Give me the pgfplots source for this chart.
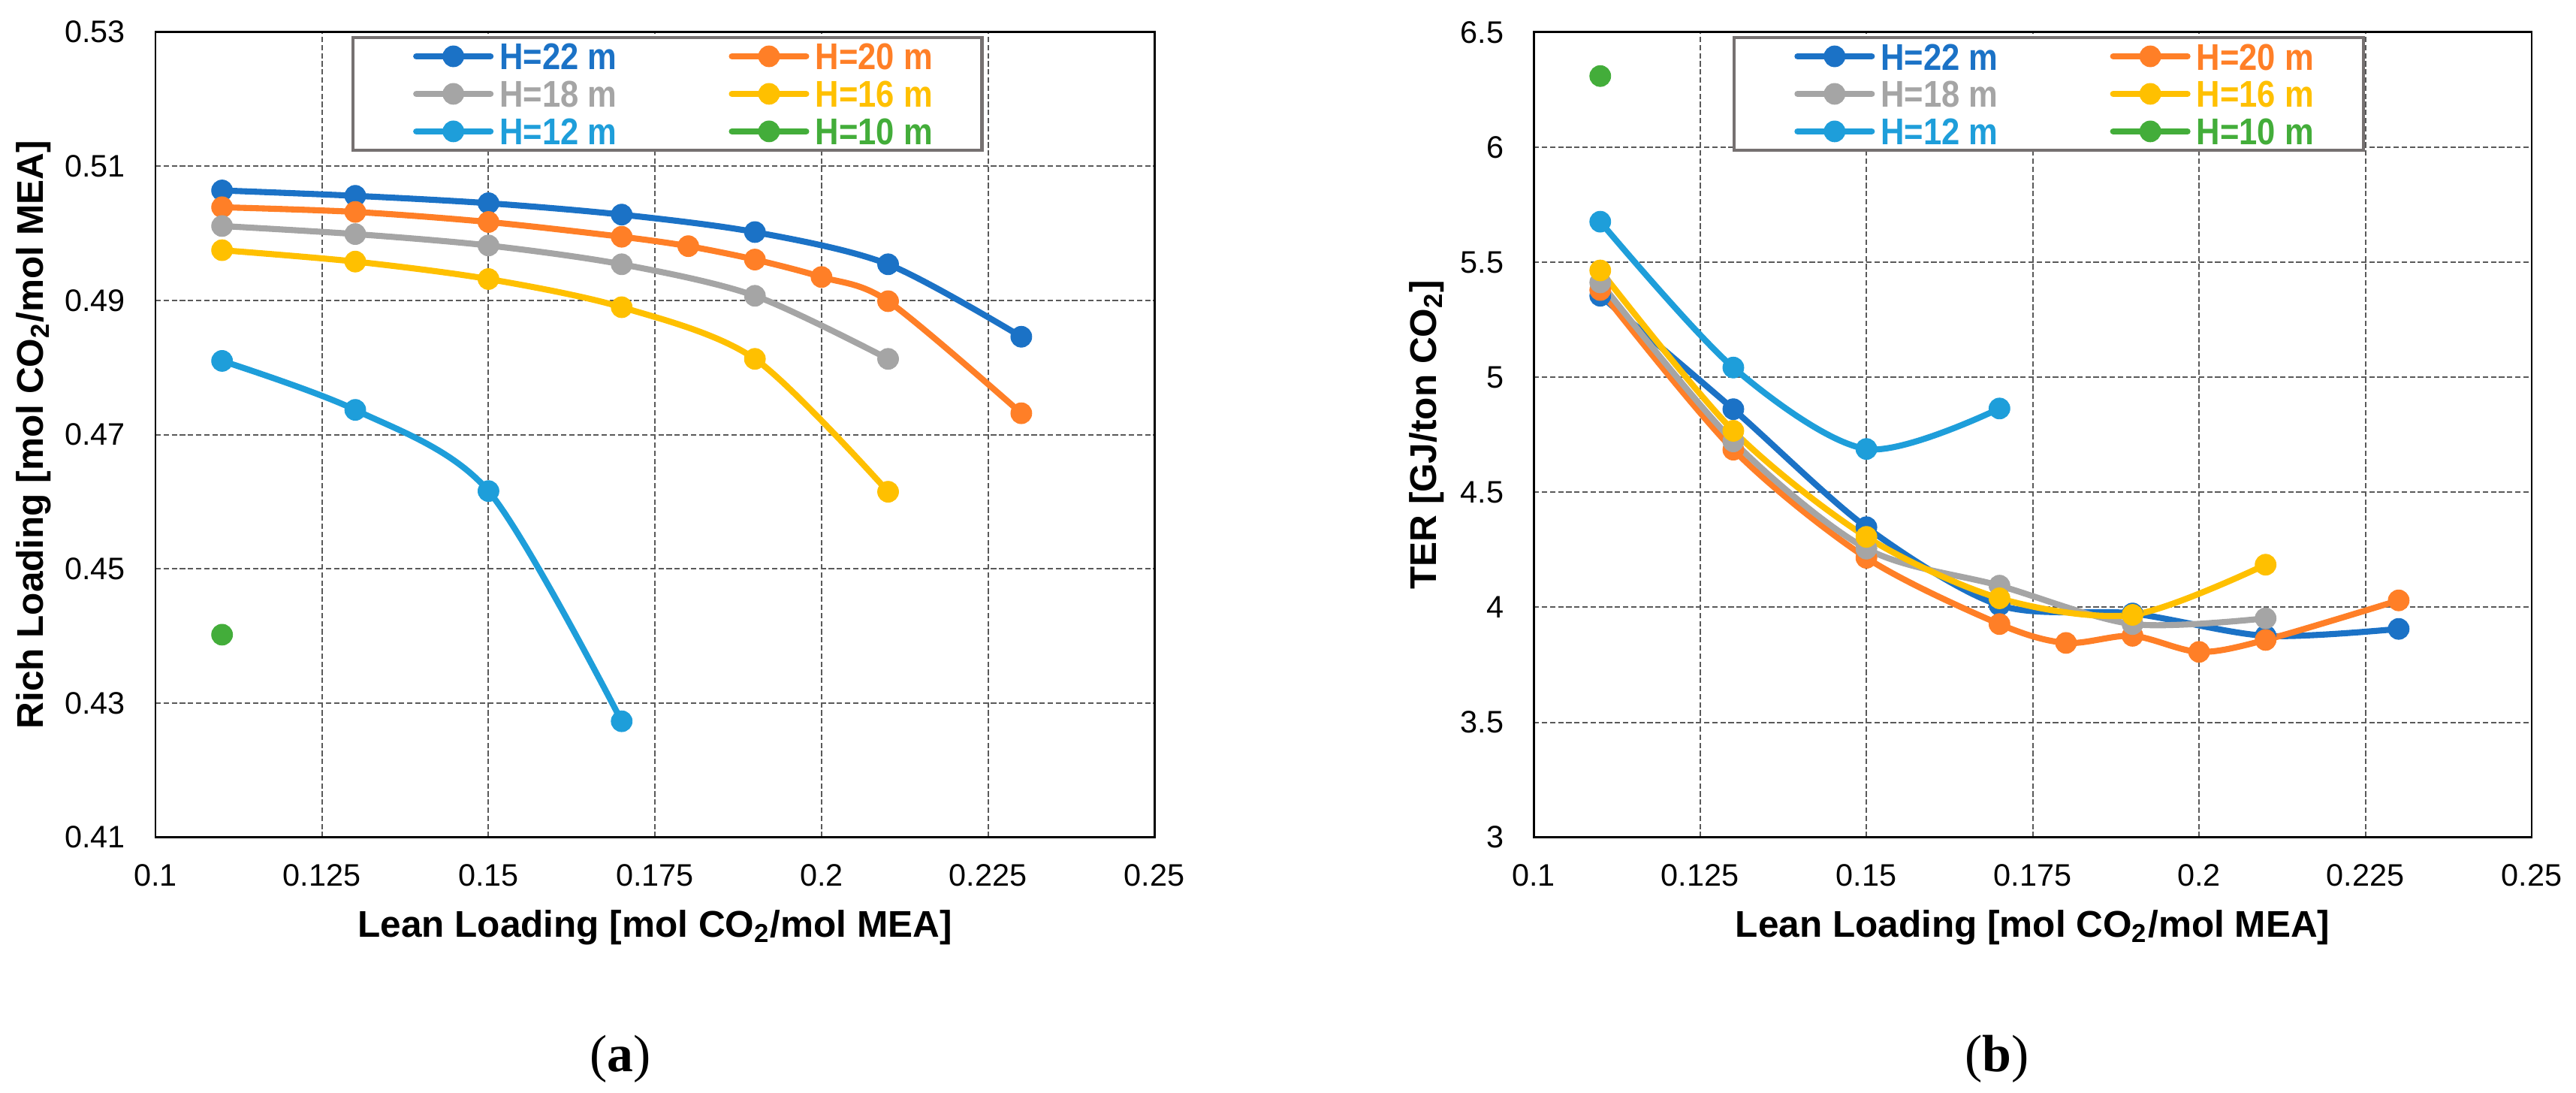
\documentclass[border=0pt]{standalone}
\usepackage{fontspec}
\setmainfont{Liberation Sans}
\newfontfamily\capfont{Liberation Serif}
\usepackage{graphicx}
\usepackage{pgfplots}
\pgfplotsset{compat=1.18}

\definecolor{c22}{RGB}{27,114,198}
\definecolor{c20}{RGB}{255,127,39}
\definecolor{c18}{RGB}{165,165,165}
\definecolor{c16}{RGB}{255,192,0}
\definecolor{c12}{RGB}{30,158,218}
\definecolor{c10}{RGB}{67,173,58}
\definecolor{lgborder}{RGB}{118,113,113}
\definecolor{gridc}{RGB}{89,89,89}

\newcommand{\lgA}[2]{\makebox[34.4pt][l]{\textcolor{#1}{\scalebox{0.88}[1]{#2}}}}
\newcommand{\lgB}[2]{\makebox[31.5pt][l]{\textcolor{#1}{\scalebox{0.88}[1]{#2}}}}

\pgfplotsset{
  base/.style={
    scale only axis, width=295.6pt, height=238.2pt,
    xmin=0.1, xmax=0.25,
    xtick={0.1,0.125,0.15,0.175,0.2,0.225,0.25},
    xticklabels={0.1,0.125,0.15,0.175,0.2,0.225,0.25},
    grid=major,
    major grid style={gridc, line width=0.45pt, dash pattern=on 1.6pt off 0.8pt},
    major tick length=0pt,
    axis line style={line width=0.6pt, black},
    tick label style={font=\fontsize{9.2}{11}\selectfont, inner sep=0pt},
    xticklabel style={anchor=center, yshift=-11.3pt},
    yticklabel style={anchor=east, xshift=-8.7pt},
    label style={font=\fontsize{11}{13}\selectfont\bfseries},
    xlabel={Lean Loading [mol CO\textsubscript{2}/mol MEA]},
    xlabel style={at={(axis description cs:0.5,-0.112)}, anchor=center},
    clip=false,
    /pgf/number format/assume math mode=true,
    legend columns=2,
    legend cell align=left,
    legend style={anchor=north west, draw=lgborder, line width=0.9pt,
      inner xsep=17.8pt, inner ysep=1.6pt, row sep=3.1pt,
      nodes={inner sep=0pt, text height=8pt, text depth=0pt,
        font=\fontsize{11}{13}\selectfont\bfseries},
      /tikz/every odd column/.style={column sep=1.8pt},
      /tikz/every even column/.style={column sep=33.4pt}},
    legend image code/.code={\draw[mark repeat=2,mark phase=2] plot coordinates {(0pt,0pt) (11pt,0pt) (22pt,0pt)};},
    every axis plot/.append style={line width=1.8pt, line cap=round, line join=round,
      mark=*, mark size=3.1pt, mark options={solid, line width=0.2pt}},
  }
}

\begin{document}
\begin{tikzpicture}
\path[use as bounding box] (0,0) rectangle (762.2pt,323.3pt);

\begin{axis}[base, at={(46pt,75.6pt)}, anchor=south west,
  ymin=0.41, ymax=0.53,
  ytick={0.41,0.43,0.45,0.47,0.49,0.51,0.53},
  yticklabels={0.41,0.43,0.45,0.47,0.49,0.51,0.53},
  ylabel={Rich Loading [mol CO\textsubscript{2}/mol MEA]},
  ylabel style={at={(axis description cs:-0.1218,0.5)}, anchor=center},
  legend style={at={(axis description cs:0.1962,0.9953)}},
]
\addplot[color=c22, smooth] coordinates {(0.11,0.5064)(0.13,0.5056)(0.15,0.5045)(0.17,0.5028)(0.19,0.5002)(0.21,0.4954)(0.23,0.4846)};
\addlegendentry{\lgA{c22}{H=22 m}}
\addplot[color=c20, smooth] coordinates {(0.11,0.5039)(0.13,0.5032)(0.15,0.5017)(0.17,0.4995)(0.18,0.4981)(0.19,0.4961)(0.20,0.4935)(0.21,0.4899)(0.23,0.4732)};
\addlegendentry{\lgB{c20}{H=20 m}}
\addplot[color=c18, smooth] coordinates {(0.11,0.5011)(0.13,0.4999)(0.15,0.4982)(0.17,0.4954)(0.19,0.4907)(0.21,0.4813)};
\addlegendentry{\lgA{c18}{H=18 m}}
\addplot[color=c16, smooth] coordinates {(0.11,0.4975)(0.13,0.4958)(0.15,0.4932)(0.17,0.4890)(0.19,0.4813)(0.21,0.4615)};
\addlegendentry{\lgB{c16}{H=16 m}}
\addplot[color=c12, smooth] coordinates {(0.11,0.4810)(0.13,0.4737)(0.15,0.4616)(0.17,0.4273)};
\addlegendentry{\lgA{c12}{H=12 m}}
\addplot[color=c10] coordinates {(0.11,0.4402)};
\addlegendentry{\lgB{c10}{H=10 m}}
\end{axis}

\begin{axis}[base, at={(453.8pt,75.6pt)}, anchor=south west, width=295.3pt,
  ymin=3, ymax=6.5,
  ytick={3,3.5,4,4.5,5,5.5,6,6.5},
  yticklabels={3,3.5,4,4.5,5,5.5,6,6.5},
  ylabel={TER [GJ/ton CO\textsubscript{2}]},
  ylabel style={at={(axis description cs:-0.107,0.5)}, anchor=center},
  legend style={at={(axis description cs:0.1994,0.9953)}},
]
\addplot[color=c22, smooth] coordinates {(0.11,5.354)(0.13,4.861)(0.15,4.348)(0.17,4.009)(0.19,3.973)(0.21,3.876)(0.23,3.906)};
\addlegendentry{\lgA{c22}{H=22 m}}
\addplot[color=c20, smooth] coordinates {(0.11,5.379)(0.13,4.685)(0.15,4.215)(0.17,3.927)(0.18,3.845)(0.19,3.876)(0.20,3.806)(0.21,3.858)(0.23,4.030)};
\addlegendentry{\lgB{c20}{H=20 m}}
\addplot[color=c18, smooth] coordinates {(0.11,5.412)(0.13,4.721)(0.15,4.255)(0.17,4.094)(0.19,3.927)(0.21,3.952)};
\addlegendentry{\lgA{c18}{H=18 m}}
\addplot[color=c16, smooth] coordinates {(0.11,5.464)(0.13,4.767)(0.15,4.306)(0.17,4.039)(0.19,3.967)(0.21,4.185)};
\addlegendentry{\lgB{c16}{H=16 m}}
\addplot[color=c12, smooth] coordinates {(0.11,5.676)(0.13,5.042)(0.15,4.688)(0.17,4.864)};
\addlegendentry{\lgA{c12}{H=12 m}}
\addplot[color=c10] coordinates {(0.11,6.309)};
\addlegendentry{\lgB{c10}{H=10 m}}
\end{axis}

\node[font=\capfont\fontsize{15.5}{18}\selectfont] at (183.6pt,10pt) {(\textbf{a})};
\node[font=\capfont\fontsize{15.5}{18}\selectfont] at (590.9pt,10pt) {(\textbf{b})};
\end{tikzpicture}
\end{document}
